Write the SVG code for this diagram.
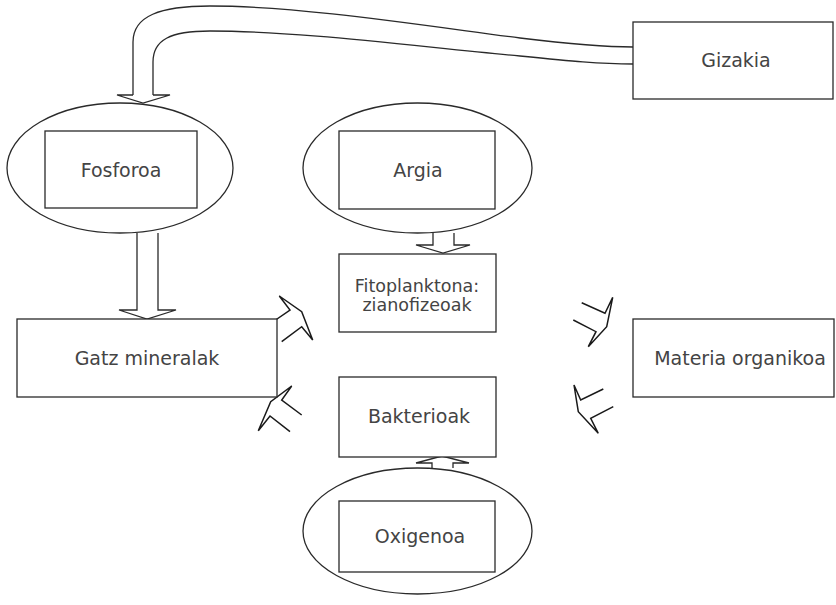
<svg xmlns="http://www.w3.org/2000/svg" width="836" height="605" viewBox="0 0 836 605">
<style>
.box{fill:#fff;stroke:#2a2a2a;stroke-width:1.3}
.ell{fill:#fff;stroke:#2a2a2a;stroke-width:1.3}
.ln{fill:none;stroke:#2a2a2a;stroke-width:1.3;stroke-linejoin:miter}
.chev{fill:none;stroke:#1a1a1a;stroke-width:1.5;stroke-linejoin:miter}
.t{font-family:"DejaVu Sans","Liberation Sans",sans-serif;font-size:19px;fill:#444;text-anchor:middle}
.s{font-size:17.5px}
</style>
<rect width="836" height="605" fill="#fff"/>
<g id="connectors">
  <path class="ln" d="M133,95 L133,42 C133,16 160,6 210,6 C300,6 420,25 520,38 C570,44 600,47 633,47"/>
  <path class="ln" d="M153,95 L153,62 C153,40 170,31 210,31 C300,31 420,47 520,56 C570,61 600,64 633,64"/>
  <path class="ln" d="M133,95 L117,95 L143,103 L170,95 L153,95"/>
  <path class="box" d="M137,233 L137,310 L119,310 L147,319 L176,310 L158,310 L158,233"/>
  <path class="box" d="M433,233 L433,245 L416,245 L443,253 L470,245 L454,245 L454,233"/>
  <path class="box" d="M432,468 L432,463 L416,463 L442,456 L469,463 L453,463 L453,468"/>
  <polyline class="chev" points="268.3,325 290,310 279.3,296 301.7,311.7 312.7,340 301.7,326.7 281.7,341.7"/>
  <polyline class="chev" points="301.7,415 281.7,400 291.7,386 270.7,401.7 258.3,430.7 270,416 290,431.7"/>
  <polyline class="chev" points="581.7,302.7 605,313.3 612.7,297.3 606.7,326.7 588.3,346.7 596,331.7 573.3,320"/>
  <polyline class="chev" points="603.3,389 580.7,400 574,385 578.3,411.7 598.3,433.3 590.7,418.3 613.3,406.7"/>
</g>
<g id="gizakia">
  <rect class="box" x="633" y="22" width="200" height="77"/>
  <text class="t" x="736" y="67">Gizakia</text>
</g>
<g id="fosforoa">
  <ellipse class="ell" cx="120" cy="168" rx="113" ry="65"/>
  <rect class="box" x="45" y="131" width="152" height="77"/>
  <text class="t" x="121" y="177">Fosforoa</text>
</g>
<g id="argia">
  <ellipse class="ell" cx="417.5" cy="168" rx="114.5" ry="65"/>
  <rect class="box" x="339" y="131" width="156" height="78"/>
  <text class="t" x="418" y="177">Argia</text>
</g>
<g id="fitoplanktona">
  <rect class="box" x="339" y="254" width="157" height="78"/>
  <text class="t s" x="417" y="292">Fitoplanktona:</text>
  <text class="t s" x="417" y="311">zianofizeoak</text>
</g>
<g id="gatz">
  <rect class="box" x="17" y="319" width="260" height="78"/>
  <text class="t" x="147" y="365">Gatz mineralak</text>
</g>
<g id="materia">
  <rect class="box" x="633" y="319" width="201" height="78"/>
  <text class="t" x="740" y="365">Materia organikoa</text>
</g>
<g id="bakterioak">
  <rect class="box" x="339" y="377" width="157" height="80"/>
  <text class="t" x="419" y="423">Bakterioak</text>
</g>
<g id="oxigenoa">
  <ellipse class="ell" cx="417.5" cy="531" rx="114.5" ry="63"/>
  <rect class="box" x="339" y="501" width="156" height="71"/>
  <text class="t" x="420" y="543">Oxigenoa</text>
</g>
</svg>
